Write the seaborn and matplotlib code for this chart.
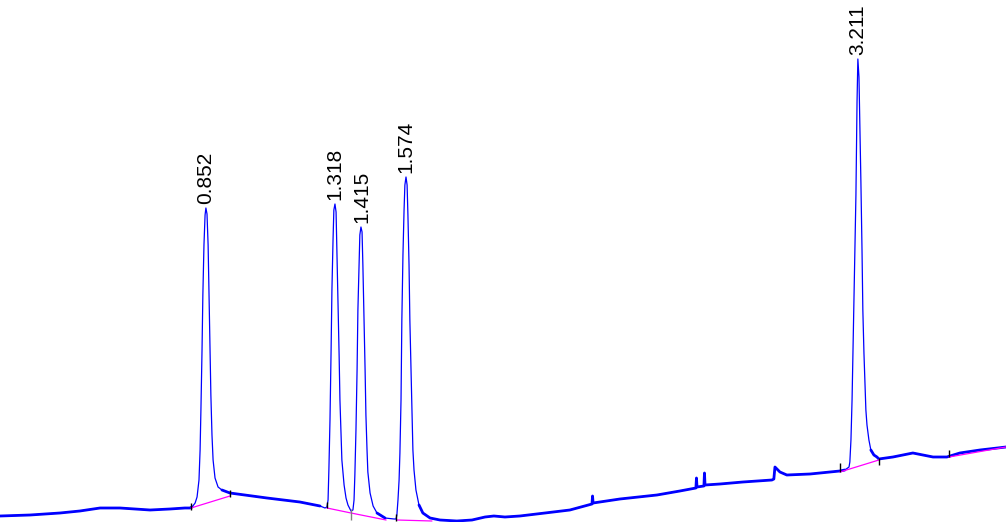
import seaborn as sns
import pandas as pd
import numpy as np
import matplotlib.pyplot as plt

# detector trace: retention time (min) / signal (mV)
time = [0.107, 0.216, 0.324, 0.396, 0.469, 0.541, 0.650, 0.722, 0.776, 0.794,
        0.802, 0.813, 0.820, 0.827, 0.831, 0.834, 0.838, 0.841, 0.845, 0.849, 0.852,
        0.856, 0.860, 0.863, 0.867, 0.870, 0.874, 0.878, 0.885, 0.896, 0.910, 0.939,
        1.073, 1.192, 1.265, 1.283,
        1.290, 1.294, 1.297, 1.301, 1.305, 1.308, 1.312, 1.315, 1.319, 1.323, 1.326,
        1.330, 1.334, 1.337, 1.341, 1.344, 1.352, 1.359, 1.366, 1.377,
        1.384, 1.388, 1.391, 1.395, 1.399, 1.402, 1.406, 1.409, 1.413, 1.417, 1.420,
        1.424, 1.428, 1.431, 1.435, 1.438, 1.446, 1.457, 1.471, 1.500, 1.533,
        1.540, 1.543, 1.547, 1.551, 1.554, 1.558, 1.561, 1.565, 1.569, 1.572, 1.576,
        1.580, 1.583, 1.587, 1.590, 1.594, 1.598, 1.601, 1.605, 1.612, 1.623, 1.637,
        1.663, 1.699, 1.760,
        1.815, 1.862, 1.894, 1.934, 1.988, 2.079, 2.169, 2.249, 2.251, 2.253, 2.350,
        2.484, 2.567, 2.625, 2.627, 2.629, 2.654, 2.656, 2.658, 2.712, 2.795, 2.900,
        2.907, 2.911, 2.929, 2.954, 3.038, 3.110, 3.146, 3.164,
        3.179, 3.182, 3.186, 3.190, 3.193, 3.197, 3.200, 3.204, 3.208, 3.211, 3.215,
        3.218, 3.222, 3.226, 3.229, 3.233, 3.237, 3.240, 3.244, 3.251, 3.258, 3.269,
        3.280, 3.287,
        3.338, 3.410, 3.483, 3.533, 3.580, 3.653, 3.747]
signal = [6, 7, 9, 11, 14, 14, 12, 13, 14, 14,
          15, 19, 25, 42, 72, 112, 172, 227, 277, 307, 314,
          308, 277, 232, 177, 127, 87, 62, 44, 35, 32, 29,
          24, 20, 16, 14,
          15, 22, 52, 102, 172, 232, 282, 312, 318, 310, 272,
          222, 167, 122, 87, 62, 37, 24, 17, 11,
          12, 22, 47, 92, 152, 212, 257, 287, 295, 290, 257,
          207, 152, 107, 72, 50, 29, 16, 9, 4, 3,
          3, 7, 22, 42, 69, 122, 202, 267, 312, 337, 345,
          337, 307, 257, 202, 152, 107, 72, 52, 32, 17, 9,
          4, 2, 1,
          2, 5, 6, 5, 6, 9, 12, 18, 26, 19, 23,
          27, 31, 34, 44, 35, 36, 49, 37, 38, 40, 42,
          43, 55, 50, 47, 48, 50, 51, 52,
          55, 60, 82, 122, 167, 222, 272, 327, 420, 463, 445,
          400, 340, 272, 212, 169, 137, 112, 97, 82, 72, 67,
          65, 63,
          65, 69, 65, 65, 69, 72, 75]

peak_rt = [0.852, 1.318, 1.415, 1.574, 3.211]
peak_height = [314, 318, 295, 345, 463]
peak_label = ["0.852", "1.318", "1.415", "1.574", "3.211"]

# integration baselines (magenta)
base_time = [[0.798, 0.939], [1.290, 1.377, 1.504], [1.543, 1.670],
             [3.146, 3.287], [3.541, 3.747]]
base_signal = [[14, 26], [14, 9, 2], [2, 1], [50, 62], [65, 75]]

# peak start / end markers
mark_time = [0.798, 0.939, 1.290, 1.377, 1.540, 3.146, 3.287, 3.541]
mark_low = [12, 25, 14, 2, 1, 50, 57, 65]
mark_high = [19, 32, 20, 13, 8, 59, 64, 72]
mark_color = ["black", "black", "black", "grey", "black", "black", "black", "black"]

sns.set_theme(style="white")
plt.rcParams["font.family"] = ["Liberation Sans", "DejaVu Sans"]

fig = plt.figure(figsize=(10.06, 5.22), dpi=100)
ax = fig.add_axes([0, 0, 1, 1])

trace = pd.DataFrame({"time": time, "signal": signal})
sns.lineplot(data=trace, x="time", y="signal", estimator=None, sort=False,
             color="#0000ff", lw=0.9, ax=ax, legend=False)

# noisy baseline looks thicker than the peaks
near = np.min(np.abs(trace["time"].values[:, None] - np.array(peak_rt)[None, :]), axis=1) < 0.045
noisy = trace[~near].copy()
noisy["seg"] = np.cumsum(near)[~near]
sns.lineplot(data=noisy, x="time", y="signal", units="seg", estimator=None, sort=False,
             color="#0000ff", lw=2.0, ax=ax, legend=False)

bl = pd.DataFrame({
    "time": sum(base_time, []),
    "signal": sum(base_signal, []),
    "seg": sum([[i] * len(t) for i, t in enumerate(base_time)], []),
})
sns.lineplot(data=bl, x="time", y="signal", units="seg", estimator=None, sort=False,
             color="#ff00ff", lw=0.9, ax=ax, legend=False)

ax.vlines(mark_time, mark_low, mark_high, colors=mark_color, lw=1.0)

for rt, h, lab in zip(peak_rt, peak_height, peak_label):
    ax.text(rt, h + 4, lab, rotation=90, ha="center", va="bottom", fontsize=15,
            color="black", family=["Liberation Sans", "DejaVu Sans"])

ax.set_xlim(0.107, 3.747)
ax.set_ylim(0, 522)
ax.axis("off")

fig.savefig("out.png", dpi=100)
